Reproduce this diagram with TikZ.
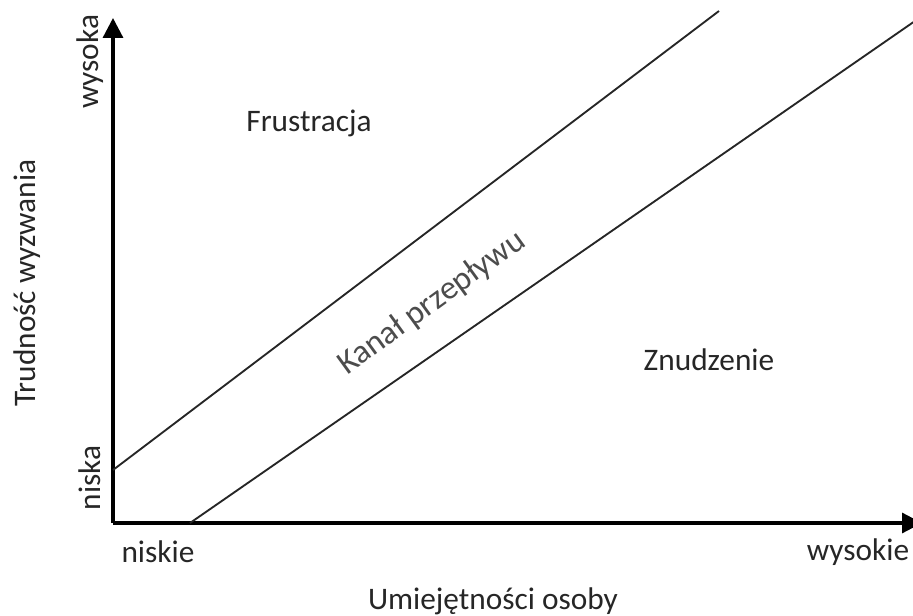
\documentclass[tikz,border=0pt]{standalone}
\usepackage{fontspec}
\setmainfont{Carlito}
\usetikzlibrary{arrows.meta}

\begin{document}
\begin{tikzpicture}[x=0.75pt, y=-0.75pt, font=\fontsize{23.5}{27}\selectfont, text=black!85]
  \useasboundingbox (0,0) rectangle (913,616);
  \coordinate (origin) at (113,523);
  \coordinate (ytop) at (113,18);
  \coordinate (xend) at (922,523);
  \draw[line width=2.4pt, -{Triangle[width=15pt,length=15pt]}] (origin) -- (ytop);
  \draw[line width=2.4pt, -{Triangle[width=15pt,length=15pt]}] (origin) -- (xend);
  \coordinate (upA) at (113,470);
  \coordinate (upB) at (719,11);
  \coordinate (loA) at (190,523);
  \coordinate (loB) at (915,21);
  \draw[line width=1.4pt, black!85] (upA) -- (upB);
  \draw[line width=1.4pt, black!85] (loA) -- (loB);
  \node[rotate=90] (wysoka) at (90,62) {wysoka};
  \node[rotate=90] (niska) at (90,478) {niska};
  \node[rotate=90] (ylabel) at (27,283) {Trudność wyzwania};
  \node (niskie) at (158,552) {niskie};
  \node (wysokie) at (858,552) {wysokie};
  \node (xlabel) at (493,601) {Umiejętności osoby};
  \node (frus) at (309,123) {Frustracja};
  \node (znud) at (709,360) {Znudzenie};
  \node[rotate=36, text=black!70, font=\fontsize{25}{28}\selectfont] (kanal) at (432,303) {Kanał przepływu};
\end{tikzpicture}
\end{document}
